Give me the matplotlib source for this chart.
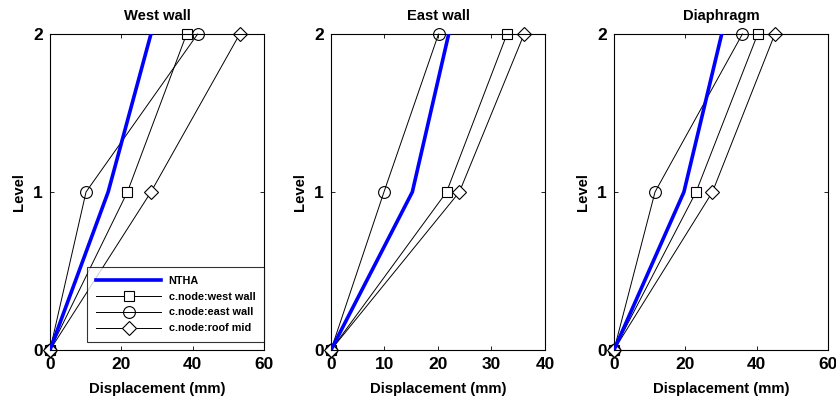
import numpy as np
import matplotlib.pyplot as plt

plt.rcParams['font.family'] = ['Liberation Sans', 'DejaVu Sans']
plt.rcParams['font.weight'] = 'bold'

levels = [0, 1, 2]
titles = ['West wall', 'East wall', 'Diaphragm']
xlims = [60, 40, 60]

# displacements (mm) at levels 0, 1, 2
ntha = [[0, 16.3, 28.3], [0, 15.2, 22.0], [0, 19.6, 30.2]]
cnode_west = [[0, 21.7, 38.3], [0, 21.6, 32.9], [0, 23.0, 40.3]]
cnode_east = [[0, 10.1, 41.4], [0, 9.9, 20.1], [0, 11.5, 36.0]]
cnode_roof = [[0, 28.3, 53.2], [0, 24.0, 36.1], [0, 27.6, 45.1]]

fig = plt.figure(figsize=(8.37, 3.96), dpi=100)
lefts = [50, 331, 614]
W, H = 837, 396

for i in range(3):
    ax = fig.add_axes([lefts[i] / W, (H - 350) / H, 214 / W, 316 / H])
    ax.plot(ntha[i], levels, color='#0000ff', lw=2.6, label='NTHA', zorder=3)
    ax.plot(cnode_west[i], levels, color='k', lw=0.7, marker='s', ms=7, mfc='white',
            mec='k', mew=0.8, label='c.node:west wall', clip_on=False)
    ax.plot(cnode_east[i], levels, color='k', lw=0.7, marker='o', ms=8.5, mfc='none',
            mec='k', mew=0.8, label='c.node:east wall', clip_on=False)
    ax.plot(cnode_roof[i], levels, color='k', lw=0.7, marker='D', ms=7, mfc='white',
            mec='k', mew=0.8, label='c.node:roof mid', clip_on=False)

    ax.set_xlim(0, xlims[i])
    ax.set_ylim(0, 2)
    ax.set_yticks(levels)
    ax.set_xticks(np.arange(0, xlims[i] + 1, 20 if xlims[i] == 60 else 10))
    ax.tick_params(direction='in', top=True, right=True, labelsize=12.5, length=3, width=0.6, pad=5)
    for sp in ax.spines.values():
        sp.set_linewidth(0.8)
    ax.set_title(titles[i], fontsize=10.6, fontweight='bold', pad=10)
    ax.set_xlabel('Displacement (mm)', fontsize=10.7, fontweight='bold', labelpad=7)
    ax.set_ylabel('Level', fontsize=10.7, fontweight='bold', labelpad=5)

    if i == 0:
        leg = ax.legend(loc='lower right', bbox_to_anchor=(1.0, 0.025), fontsize=7.8,
                        frameon=True, fancybox=False, edgecolor='k', borderaxespad=0,
                        handlelength=6.0, handletextpad=0.7,
                        labelspacing=0.55, borderpad=0.8)
        leg.get_frame().set_linewidth(0.8)

fig.savefig('out.png', dpi=100)
